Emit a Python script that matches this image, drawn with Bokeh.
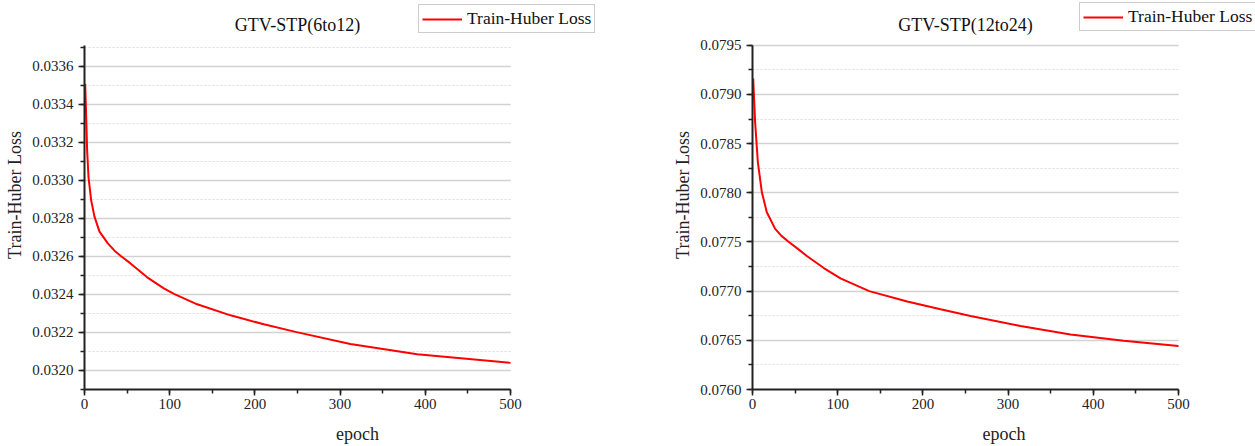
from bokeh.plotting import figure
from bokeh.layouts import row
from bokeh.models import Range1d, SingleIntervalTicker, PrintfTickFormatter, Legend, LegendItem, Label
from bokeh.embed import file_html
from bokeh.resources import INLINE

# ---- data ----
epoch_a = [0.8, 2, 3.1, 4.7, 7.8, 11.7, 17.6, 27.4, 35.2, 43, 54, 73.6, 93.1, 105, 132.3, 171.4, 210.5, 247.7, 312, 390.5, 500]
loss_a = [0.033508, 0.03333, 0.033157, 0.033017, 0.032896, 0.032809, 0.03273, 0.032668, 0.03263, 0.032601,
          0.032563, 0.03249, 0.032432, 0.032403, 0.032348, 0.03229, 0.032243, 0.032203, 0.032139, 0.032085, 0.03204]

epoch_b = [0.8, 3.1, 6.3, 11, 16.8, 26.6, 34, 42, 54, 64.2, 83.7, 103.3, 137, 181.6, 220.7, 256, 314.6, 373.3, 435.6, 500]
loss_b = [0.079162, 0.078716, 0.07831, 0.078005, 0.077802, 0.077633, 0.077562, 0.077505, 0.077425, 0.077355,
          0.077235, 0.07713, 0.077, 0.076895, 0.076815, 0.076748, 0.076645, 0.07656, 0.076495, 0.076443]

titles = ["GTV-STP(6to12)", "GTV-STP(12to24)"]
series_name = "Train-Huber Loss"
x_label = "epoch"
y_label = "Train-Huber Loss"
x_axis_range = (0, 500)
y_axis_range_a = (0.0319, 0.03371)
y_axis_range_b = (0.0760, 0.0795)
y_tick_step_a = 0.0002
y_tick_step_b = 0.0005

FONT = "Liberation Serif"
HEIGHT = 446
BOTTOM = 55          # space for the x axis
AXIS_TOP = 45        # pixel row where the drawn axes start
FRAME_H = HEIGHT - BOTTOM          # frame spans the full height above the x axis
AXIS_H = FRAME_H - AXIS_TOP        # visible axis height
AXIS_W = 426                       # visible x-axis length


def make(epochs, losses, title, yr, yint, width, left, legend_loc):
    frame_w = width - left
    x0, x1 = x_axis_range
    y0, y1 = yr
    # extend the ranges so that the frame also holds title and legend area
    xr_hi = x0 + (x1 - x0) * frame_w / AXIS_W
    yr_hi = y0 + (y1 - y0) * FRAME_H / AXIS_H

    p = figure(width=width, height=HEIGHT, output_backend="svg", toolbar_location=None, title=None,
               x_range=Range1d(x0, xr_hi), y_range=Range1d(y0, yr_hi),
               min_border_left=left, min_border_right=0, min_border_top=0, min_border_bottom=BOTTOM)
    p.outline_line_color = None
    p.background_fill_color = "white"
    p.border_fill_color = "white"

    # grid
    p.xgrid.visible = False
    p.ygrid.grid_line_color = "#d2d2d2"
    p.ygrid.grid_line_width = 1.5
    p.ygrid.minor_grid_line_color = "#dcdcdc"
    p.ygrid.minor_grid_line_dash = "2 2"
    p.ygrid.minor_grid_line_width = 1
    p.ygrid.bounds = (y0, y1)
    p.ygrid.cross_bounds = (x0, x1)

    r = p.line(epochs, losses, line_color="#ff0000", line_width=2)

    p.xaxis.ticker = SingleIntervalTicker(interval=100, num_minor_ticks=2)
    p.yaxis.ticker = SingleIntervalTicker(interval=yint, num_minor_ticks=2)
    p.ygrid.ticker = p.yaxis[0].ticker
    p.yaxis.formatter = PrintfTickFormatter(format="%.4f")
    p.xaxis.bounds = (x0, x1)
    p.yaxis.bounds = (y0, y1)

    for ax in (p.xaxis, p.yaxis):
        ax.axis_line_width = 2
        ax.axis_line_color = "#222222"
        ax.major_tick_line_color = "#222222"
        ax.minor_tick_line_color = "#222222"
        ax.major_tick_line_width = 1.5
        ax.minor_tick_line_width = 1.5
        ax.major_tick_in = 0
        ax.major_tick_out = 6
        ax.minor_tick_in = 0
        ax.minor_tick_out = 4
        ax.major_label_text_font = FONT
        ax.major_label_text_font_size = "15px"
        ax.major_label_text_color = "#222222"
        ax.axis_label_text_font = FONT
        ax.axis_label_text_font_size = "18px"
        ax.axis_label_text_font_style = "normal"
        ax.axis_label_text_color = "#222222"
    p.xaxis.axis_label = x_label
    p.yaxis.axis_label = y_label
    p.xaxis.major_label_standoff = 3
    p.yaxis.major_label_standoff = 5
    p.xaxis.axis_label_standoff = 12
    p.yaxis.axis_label_standoff = 4

    # title, centred over the drawn x axis
    p.add_layout(Label(x=(x0 + x1) / 2, y=FRAME_H - 26, y_units="screen", text=title,
                       text_font=FONT, text_font_size="18px", text_color="#111111",
                       text_align="center", text_baseline="middle"))

    legend = Legend(items=[LegendItem(label=series_name, renderers=[r])], location=legend_loc,
                    orientation="vertical")
    legend.label_text_font = FONT
    legend.label_text_font_size = "17.5px"
    legend.label_text_color = "#111111"
    legend.glyph_width = 40
    legend.glyph_height = 16
    legend.label_standoff = 5
    legend.padding = 3
    legend.margin = 0
    legend.spacing = 0
    legend.label_height = 16
    legend.border_line_color = "#9a9a9a"
    legend.border_line_width = 1.5
    legend.background_fill_alpha = 1
    p.add_layout(legend, "center")
    return p


p1 = make(epoch_a, loss_a, titles[0], y_axis_range_a, y_tick_step_a, 630, 84, (334, 356))
p2 = make(epoch_b, loss_b, titles[1], y_axis_range_b, y_tick_step_b, 625, 122, (327, 358))

layout = row(p1, p2, spacing=0)
open("out.html", "w").write(file_html(layout, INLINE))
